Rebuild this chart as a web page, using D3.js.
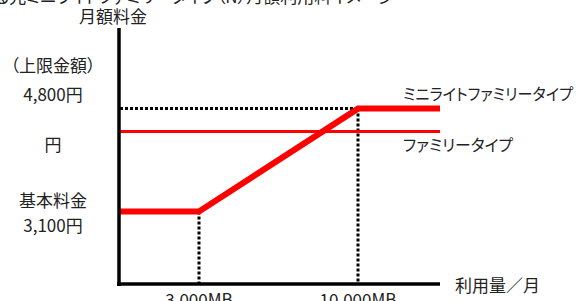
<!DOCTYPE html>
<html>
<head>
<meta charset="utf-8">
<script src="https://cdn.jsdelivr.net/npm/d3@7"></script>
<style>
  body { margin: 0; background: #fff; }
  text { font-family: "Noto Sans CJK JP", sans-serif; fill: #222; font-feature-settings: "palt"; }
</style>
</head>
<body>
<div id="chart"></div>
<script>
var width = 576,
    height = 301;

// Data (usage MB -> monthly fee yen), schematic
var usageBreaks = [0, 3000, 10000, 13000];
var miniLiteFee = [
    {mb: 0, yen: 3100},
    {mb: 3000, yen: 3100},
    {mb: 10000, yen: 4800},
    {mb: 13000, yen: 4800}
];
var familyFee = [
    {mb: 0, yen: 4420},
    {mb: 13000, yen: 4420}
];
var xTicks = [3000, 10000],
    xTickLabels = ['3,000MB', '10,000MB'];
var seriesNames = ['ミニライトファミリータイプ', 'ファミリータイプ'];
var titleText = 'る光ミニライトファミリータイプ（N）月額利用料イメージ';

var svg = d3.select('#chart')
    .append('svg')
    .attr('width', width)
    .attr('height', height);

// Setup scales (x is a schematic, piecewise scale)
var x = d3.scaleLinear().domain(usageBreaks).range([120, 199, 358, 440]),
    y = d3.scaleLinear().domain([1900, 6100]).range([284, 30]);

var line = d3.line()
    .x(function(d) { return x(d.mb); })
    .y(function(d) { return y(d.yen); });

// cut-off title
svg.append('text')
    .attr('x', -6)
    .attr('y', 3)
    .style('font-size', '17px')
    .text(titleText);

// Dotted guides
var guides = svg.append('g')
    .attr('stroke', '#000')
    .attr('stroke-width', 3)
    .attr('stroke-dasharray', '3,2');

guides.append('line')
    .attr('x1', x(0)).attr('x2', x(10000))
    .attr('y1', y(4800)).attr('y2', y(4800));

guides.selectAll('.vguide')
    .data(miniLiteFee.slice(1, 3))
    .enter()
    .append('line')
    .attr('class', 'vguide')
    .attr('x1', function(d) { return x(d.mb); })
    .attr('x2', function(d) { return x(d.mb); })
    .attr('y1', function(d) { return y(d.yen); })
    .attr('y2', y.range()[0]);

// Lines
svg.append('path')
    .datum(familyFee)
    .attr('d', line)
    .attr('fill', 'none')
    .attr('stroke', '#ff0000')
    .attr('stroke-width', 3);

svg.append('path')
    .datum(miniLiteFee)
    .attr('d', line)
    .attr('fill', 'none')
    .attr('stroke', '#ff0000')
    .attr('stroke-width', 6);

// Axes
svg.append('line')
    .attr('x1', x(0) - 1).attr('x2', x(0) - 1)
    .attr('y1', y.range()[1] - 2).attr('y2', y.range()[0] + 2)
    .attr('stroke', '#000')
    .attr('stroke-width', 3.5);

svg.append('line')
    .attr('x1', x(0) - 3).attr('x2', x(13000))
    .attr('y1', y.range()[0]).attr('y2', y.range()[0])
    .attr('stroke', '#000')
    .attr('stroke-width', 3.5);

// Axis titles
svg.append('text')
    .attr('x', 113).attr('y', 23)
    .attr('text-anchor', 'middle')
    .style('font-size', '17px')
    .text('月額料金');

svg.append('text')
    .attr('x', 455).attr('y', 292)
    .style('font-size', '17px')
    .text('利用量／月');

// X tick labels
svg.selectAll('.xlabel')
    .data(xTicks)
    .enter()
    .append('text')
    .attr('class', 'xlabel')
    .attr('x', function(d) { return x(d); })
    .attr('y', 306)
    .attr('text-anchor', 'middle')
    .style('font-size', '17px')
    .text(function(d, i) { return xTickLabels[i]; });

// Left labels
var leftLabels = [
    {text: '（上限金額）', y: 72},
    {text: '4,800円', y: 101},
    {text: '円', y: 151},
    {text: '基本料金', y: 207},
    {text: '3,100円', y: 232}
];
svg.selectAll('.ylabel')
    .data(leftLabels)
    .enter()
    .append('text')
    .attr('class', 'ylabel')
    .attr('x', 53)
    .attr('y', function(d) { return d.y; })
    .attr('text-anchor', 'middle')
    .style('font-size', '17px')
    .text(function(d) { return d.text; });

// Series labels
svg.selectAll('.slabel')
    .data(seriesNames)
    .enter()
    .append('text')
    .attr('class', 'slabel')
    .attr('x', 403)
    .attr('y', function(d, i) { return i === 0 ? 100 : 151; })
    .attr('textLength', function(d, i) { return i === 0 ? 170 : 110; })
    .attr('lengthAdjust', 'spacingAndGlyphs')
    .style('font-size', '16px')
    .text(function(d) { return d; });
</script>
</body>
</html>
